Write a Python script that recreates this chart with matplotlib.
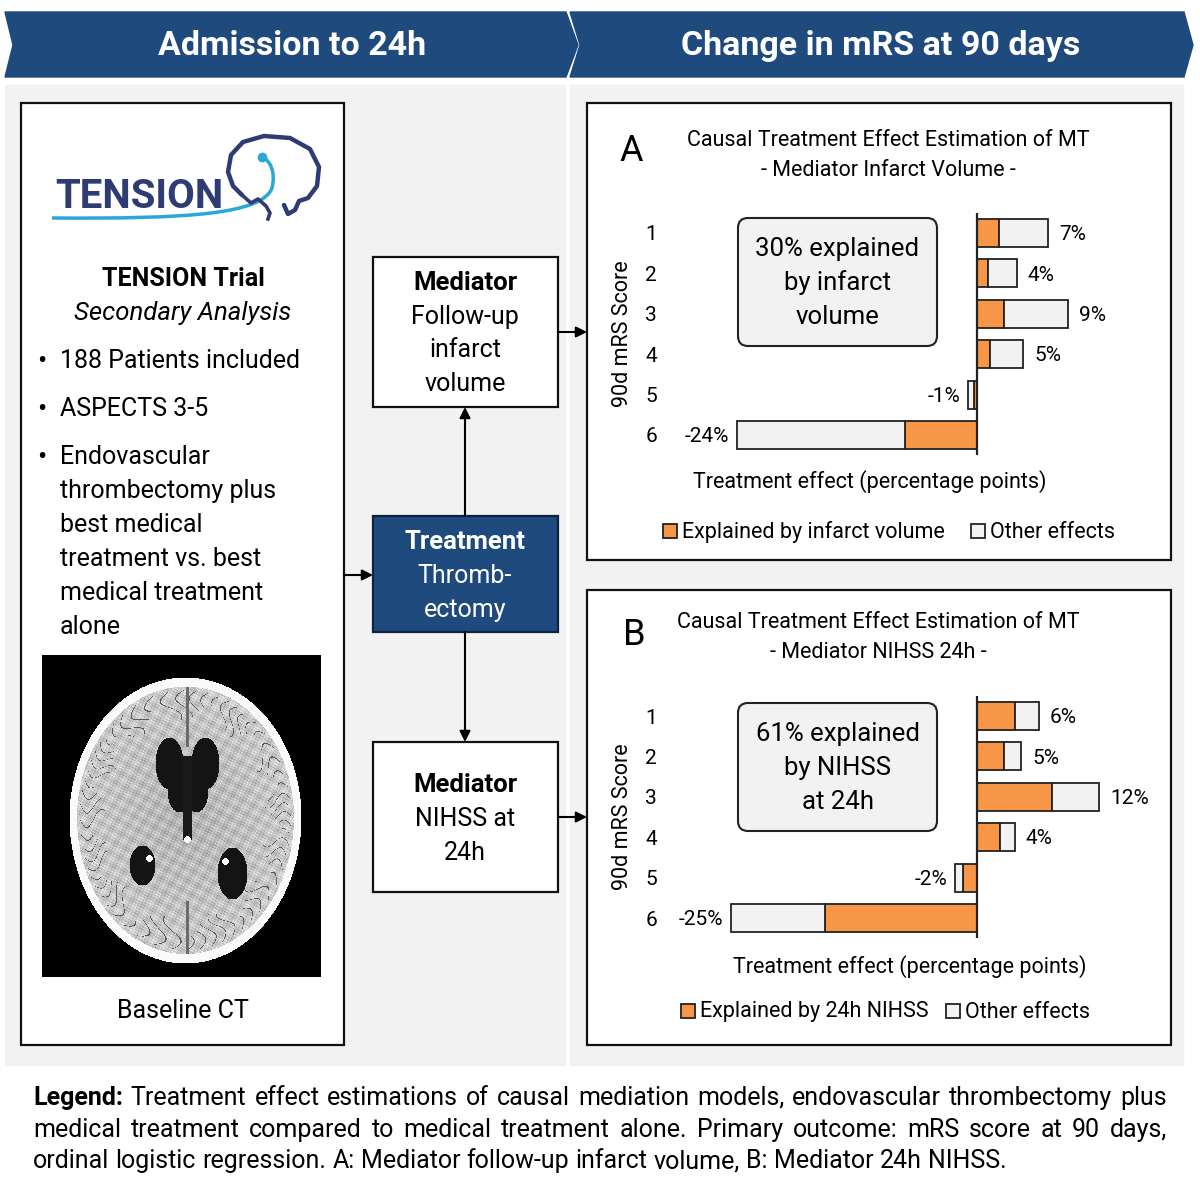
import numpy as np
import matplotlib
matplotlib.use("Agg")
import matplotlib.pyplot as plt
from matplotlib import font_manager
from matplotlib.patches import Polygon, Rectangle, FancyBboxPatch, PathPatch
from matplotlib.path import Path

# ---- data ----
mrs_scores = [1, 2, 3, 4, 5, 6]

a_total = [7.1, 4.0, 9.1, 4.6, -0.9, -24.0]
a_explained = [2.2, 1.1, 2.7, 1.3, -0.3, -7.2]
a_labels = ["7%", "4%", "9%", "5%", "-1%", "-24%"]

b_total = [6.2, 4.4, 12.2, 3.8, -2.2, -24.6]
b_explained = [3.8, 2.7, 7.5, 2.3, -1.4, -15.2]
b_labels = ["6%", "5%", "12%", "4%", "-2%", "-25%"]

bullets = [["188 Patients included"], ["ASPECTS 3-5"],
           ["Endovascular", "thrombectomy plus", "best medical", "treatment vs. best",
            "medical treatment", "alone"]]

legend_lines = [
    "Legend: Treatment effect estimations of causal mediation models, endovascular thrombectomy plus",
    "medical treatment compared to medical treatment alone. Primary outcome: mRS score at 90 days,",
    "ordinal logistic regression. A: Mediator follow-up infarct volume, B: Mediator 24h NIHSS.",
]

NAVY = "#1f4a7e"
ORANGE = "#f79646"
LIGHT = "#f2f2f2"

names = {f.name for f in font_manager.fontManager.ttflist}
MAIN = "Roboto" if "Roboto" in names else "DejaVu Sans"
NARROW = "Liberation Sans Narrow" if "Liberation Sans Narrow" in names else MAIN
plt.rcParams["font.family"] = [MAIN, "DejaVu Sans"]

fig = plt.figure(figsize=(12, 12), dpi=100)
bg = fig.add_axes([0, 0, 1, 1])
bg.set_xlim(0, 1200)
bg.set_ylim(1200, 0)
bg.axis("off")


def lines(x, ys, txts, **kw):
    for yv, s in zip(ys, txts):
        bg.text(x, yv + 1, s, ha="center", va="center", **kw)


# banners
bg.add_patch(Polygon([(5, 12), (566, 12), (578, 45), (566, 77), (5, 77), (13, 45)], color=NAVY))
bg.add_patch(Polygon([(570, 12), (1184, 12), (1193, 45), (1184, 77), (570, 77), (580, 45)], color=NAVY))
bg.text(292, 46, "Admission to 24h", color="white", fontsize=24.5, fontweight="bold", ha="center", va="center")
bg.text(881, 46, "Change in mRS at 90 days", color="white", fontsize=24.5, fontweight="bold", ha="center", va="center")

# grey panels
bg.add_patch(Rectangle((5, 85), 560, 980, color=LIGHT))
bg.add_patch(Rectangle((570, 85), 613, 980, color=LIGHT))

# left white box
bg.add_patch(Rectangle((21, 103), 323, 942, facecolor="white", edgecolor="#111", lw=1.6))

# logo
bg.text(139, 197, "TENSION", color="#2e3c73", fontsize=29, fontweight="bold", ha="center", va="center")
brain_x = [242, 233, 228, 231, 243, 264, 290, 310, 319, 317, 308, 299, 295, 288, 284]
brain_y = [195, 186, 172, 155, 142, 136, 138, 149, 167, 186, 198, 201, 210, 214, 205]
bg.plot(brain_x, brain_y, color="#2e3c73", lw=3.2, solid_capstyle="round")
bg.plot([242, 251, 258, 266, 270, 268], [195, 203, 199, 206, 213, 219], color="#2e3c73", lw=2.6)
swoosh = Path([(52, 218), (190, 219), (262, 214), (272, 188), (276, 172), (270, 160), (262, 157)],
              [Path.MOVETO, Path.CURVE4, Path.CURVE4, Path.CURVE4, Path.CURVE4, Path.CURVE4, Path.CURVE4])
bg.add_patch(PathPatch(swoosh, facecolor="none", edgecolor="#2aa7d9", lw=2.5))
bg.plot([262], [157], "o", color="#2aa7d9", ms=6)

bg.text(183, 279, "TENSION Trial", fontsize=18, fontweight="bold", ha="center", va="center")
bg.text(183, 313, "Secondary Analysis", fontsize=18.5, style="italic", ha="center", va="center")
by = [361, 409, 457]
for yb, txt in zip(by, bullets):
    bg.text(42, yb, "\u2022", fontsize=20, ha="center", va="center")
    for k, s in enumerate(txt):
        bg.text(60, yb + 34 * k + 7, s, fontsize=18, ha="left", va="baseline")

# baseline CT (stylised)
ct_h, ct_w = 322, 279
yy, xx = np.mgrid[0:ct_h, 0:ct_w].astype(float)


def ell(cx, cy, a, b):
    return ((xx - cx) / a) ** 2 + ((yy - cy) / b) ** 2


r = np.sqrt(ell(143, 162, 116, 140 + 6 * (yy > 162)))
img = np.zeros((ct_h, ct_w))
img[r < 1] = 0.98
brain = r < 0.935
tex = 0.7 + 0.1 * r
for fx, fy, ph in [(1.9, 0.7, 0.3), (-0.8, 2.3, 1.1), (1.3, -1.7, 2.0), (2.7, 1.9, 0.7),
                   (0.45, 0.31, 1.6), (-0.27, 0.52, 2.4)]:
    tex = tex + 0.035 * np.sin(fx * xx + fy * yy + ph)
img[brain] = tex[brain]
theta = np.arctan2(yy - 162, xx - 143)
wiggle = np.sin(theta * 29 + 2.2 * np.sin(r * 24) + 1.5 * np.sin(theta * 5))
depth = 0.76 + 0.07 * np.sin(theta * 13)
sulci = brain & (np.abs(wiggle) < 0.13) & (r > depth) & (r < 0.91)
img[sulci] = 0.35
img[brain & (np.abs(xx - 145) < 1.3) & ((yy < 92) | (yy > 245))] = 0.42
for cx, cy, a, b in [(127, 108, 14, 26), (163, 108, 14, 26), (137, 135, 12, 22), (154, 135, 12, 22),
                     (100, 210, 13, 20), (190, 218, 15, 26)]:
    img[ell(cx, cy, a, b) < 1] = 0.08
img[(np.abs(xx - 145) < 5) & (yy > 100) & (yy < 185)] = 0.1
for cx, cy in [(107, 203), (183, 206), (145, 184)]:
    img[ell(cx, cy, 3.5, 3.5) < 1] = 1.0
bg.imshow(img, cmap="gray", vmin=0, vmax=1, extent=(42, 321, 977, 655), interpolation="bilinear", zorder=2)
bg.text(183, 1011, "Baseline CT", fontsize=18, ha="center", va="center")

# middle flow boxes
bg.add_patch(Rectangle((373, 257), 185, 150, facecolor="white", edgecolor="#111", lw=1.6))
lines(465, [282], ["Mediator"], fontsize=18.5, fontweight="bold")
lines(465, [316, 349, 383], ["Follow-up", "infarct", "volume"], fontsize=18)

bg.add_patch(Rectangle((373, 516), 185, 116, facecolor=NAVY, edgecolor="#0d2240", lw=1.6))
lines(465, [541], ["Treatment"], fontsize=18.5, fontweight="bold", color="white")
lines(465, [575, 609], ["Thromb-", "ectomy"], fontsize=18, color="white")

bg.add_patch(Rectangle((373, 742), 185, 150, facecolor="white", edgecolor="#111", lw=1.6))
lines(465, [784], ["Mediator"], fontsize=18.5, fontweight="bold")
lines(465, [818, 852], ["NIHSS at", "24h"], fontsize=18)

arrows = [((465, 516), (465, 407)), ((465, 632), (465, 742)), ((344, 575), (373, 575)),
          ((558, 332), (587, 332)), ((558, 817), (587, 817))]
for start, end in arrows:
    bg.annotate("", xy=end, xytext=start,
                arrowprops=dict(arrowstyle="-|>", color="black", lw=1.5, mutation_scale=16,
                                shrinkA=0, shrinkB=0))

# right chart boxes
bg.add_patch(Rectangle((587, 103), 584, 457, facecolor="white", edgecolor="#111", lw=1.6))
bg.add_patch(Rectangle((587, 590), 584, 455, facecolor="white", edgecolor="#111", lw=1.6))


def chart(letter, lx, ly, title, sub, tx, ty, box_txt, box_y, rows_top, xlab_x, xlab_y,
          leg_txt, leg_x, oth_x, leg_y, total, expl, labels):
    fam = [NARROW, MAIN]
    bg.text(lx, ly, letter, fontsize=26, family=fam, ha="center", va="center")
    lines(tx, [ty, ty + 30], [title, sub], fontsize=15.5, family=fam)
    bg.add_patch(FancyBboxPatch((738, box_y), 199, 128, boxstyle="round,pad=0,rounding_size=10",
                                facecolor=LIGHT, edgecolor="#222", lw=1.5))
    lines(837.5, [box_y + 30, box_y + 64, box_y + 98], box_txt, fontsize=18.5)
    bg.text(623, rows_top + 101, "90d mRS Score", fontsize=15.5, family=fam,
            rotation=90, ha="center", va="center")
    lines(xlab_x, [xlab_y], ["Treatment effect (percentage points)"], fontsize=15.5, family=fam)
    bg.add_patch(Rectangle((leg_x - 7, leg_y - 7), 14, 14, facecolor=ORANGE, edgecolor="#222", lw=1.3))
    bg.text(leg_x + 12, leg_y + 1, leg_txt, fontsize=15.5, family=fam, ha="left", va="center")
    bg.add_patch(Rectangle((oth_x - 7, leg_y - 7), 14, 14, facecolor=LIGHT, edgecolor="#222", lw=1.3))
    bg.text(oth_x + 12, leg_y + 1, "Other effects", fontsize=15.5, family=fam, ha="left", va="center")

    # bar axes: zero at x=977 px, 10 px per percentage point, 40.4 px per row
    x0, x1 = 660, 1135
    y0, y1 = rows_top - 20.2, rows_top + 5 * 40.4 + 20.2
    ax = fig.add_axes([x0 / 1200, 1 - y1 / 1200, (x1 - x0) / 1200, (y1 - y0) / 1200])
    ax.patch.set_visible(False)
    ax.set_xlim((x0 - 977) / 10, (x1 - 977) / 10)
    ax.set_ylim(6.5, 0.5)
    for s in ax.spines.values():
        s.set_visible(False)
    ax.set_xticks([])
    ax.set_yticks(mrs_scores)
    ax.set_yticklabels([str(m) for m in mrs_scores], fontsize=15)
    ax.tick_params(axis="y", length=0, pad=2)
    other = [tv - ev for tv, ev in zip(total, expl)]
    ax.barh(mrs_scores, expl, height=0.69, color=ORANGE, edgecolor="#222", lw=1.3)
    ax.barh(mrs_scores, other, left=expl, height=0.69, color=LIGHT, edgecolor="#222", lw=1.3)
    ax.axvline(0, color="#222", lw=1.6)
    for m, tv, lab in zip(mrs_scores, total, labels):
        if tv >= 0:
            ax.text(tv + 1.1, m + 0.04, lab, fontsize=15, ha="left", va="center")
        else:
            ax.text(tv - 0.8, m + 0.04, lab, fontsize=15, ha="right", va="center")


chart("A", 631, 151, "Causal Treatment Effect Estimation of MT", "- Mediator Infarct Volume -", 888, 140,
      ["30% explained", "by infarct", "volume"], 218, 233, 870, 481,
      "Explained by infarct volume", 670, 978, 531, a_total, a_explained, a_labels)
chart("B", 634, 635, "Causal Treatment Effect Estimation of MT", "- Mediator NIHSS 24h -", 878, 622,
      ["61% explained", "by NIHSS", "at 24h"], 703, 716, 910, 966,
      "Explained by 24h NIHSS", 688, 953, 1011, b_total, b_explained, b_labels)

# justified legend text at the bottom
renderer = fig.canvas.get_renderer()
LFS = 18


def width_of(s, weight="normal"):
    tt = bg.text(0, 0, s, fontsize=LFS, fontweight=weight)
    w = tt.get_window_extent(renderer).width
    tt.remove()
    return w


space_w = width_of("a b") - width_of("ab")
line_y = [1097, 1129, 1160]
for i, (line, yl) in enumerate(zip(legend_lines, line_y)):
    words = line.split(" ")
    weights = ["bold" if (i == 0 and j == 0) else "normal" for j in range(len(words))]
    widths = [width_of(w, wt) for w, wt in zip(words, weights)]
    if i < len(legend_lines) - 1:
        gap = (1167 - 33 - sum(widths)) / (len(words) - 1)
    else:
        gap = space_w
    x = 33
    for w, wt, wd in zip(words, weights, widths):
        bg.text(x, yl + 8, w, fontsize=LFS, fontweight=wt, ha="left", va="baseline")
        x += wd + gap

fig.savefig("out.png", dpi=100)
